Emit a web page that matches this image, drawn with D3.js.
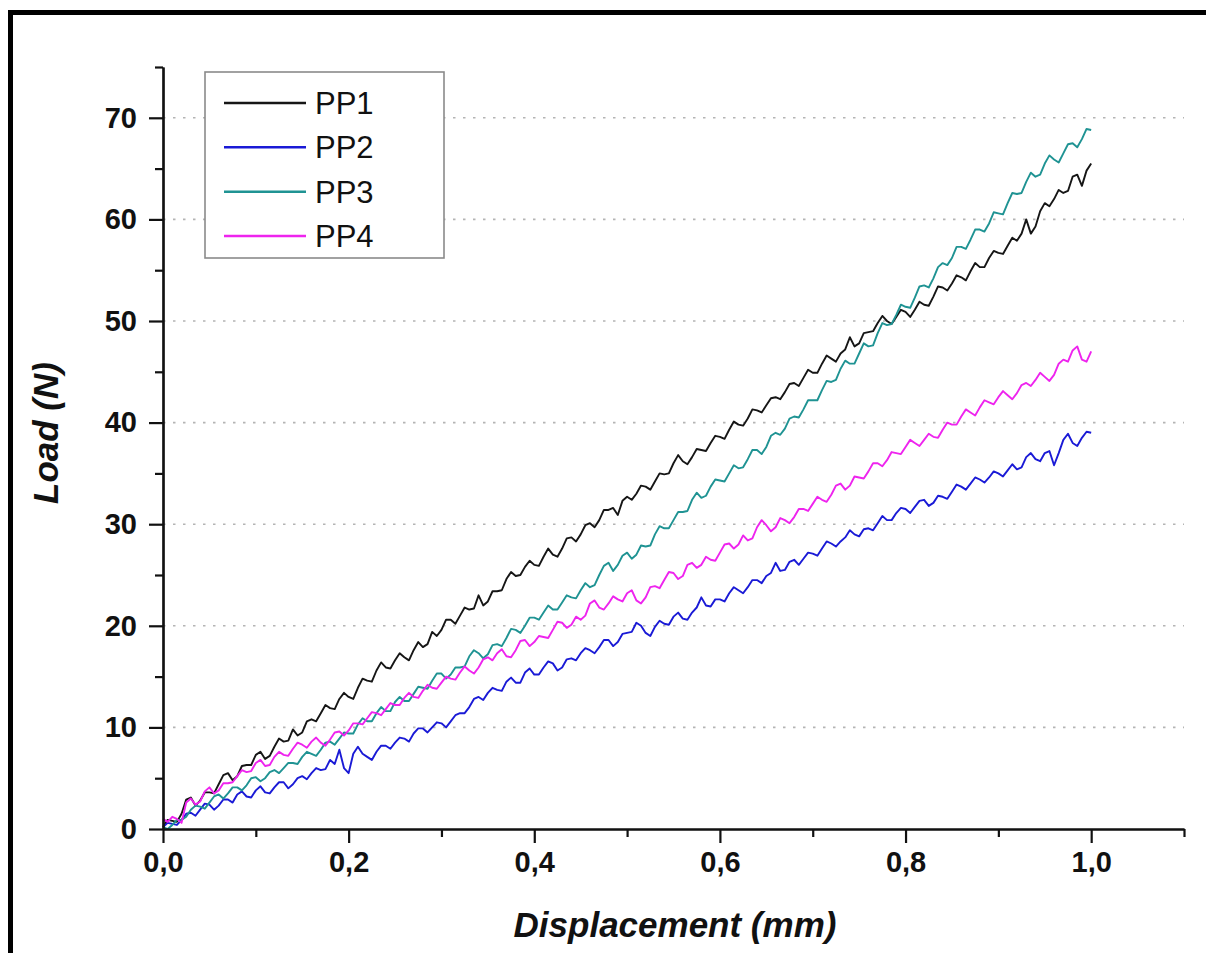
<!DOCTYPE html>
<html>
<head>
<meta charset="utf-8">
<script src="https://cdn.jsdelivr.net/npm/d3@7"></script>
<style>
  html, body { margin: 0; padding: 0; background: #ffffff; }
  svg { display: block; }
  text { font-family: "Liberation Sans", Arial, sans-serif; }
</style>
</head>
<body>
<svg id="chart" width="1206" height="953"></svg>
<script>
// ---- data ----
const displacement = [
  0.000,0.005,0.010,0.015,0.020,0.025,0.030,0.035,0.040,0.045,0.050,0.055,0.060,0.065,0.070,0.075,0.080,0.085,0.090,0.095,
  0.100,0.105,0.110,0.115,0.120,0.125,0.130,0.135,0.140,0.145,0.150,0.155,0.160,0.165,0.170,0.175,0.180,0.185,0.190,0.195,
  0.200,0.205,0.210,0.215,0.220,0.225,0.230,0.235,0.240,0.245,0.250,0.255,0.260,0.265,0.270,0.275,0.280,0.285,0.290,0.295,
  0.300,0.305,0.310,0.315,0.320,0.325,0.330,0.335,0.340,0.345,0.350,0.355,0.360,0.365,0.370,0.375,0.380,0.385,0.390,0.395,
  0.400,0.405,0.410,0.415,0.420,0.425,0.430,0.435,0.440,0.445,0.450,0.455,0.460,0.465,0.470,0.475,0.480,0.485,0.490,0.495,
  0.500,0.505,0.510,0.515,0.520,0.525,0.530,0.535,0.540,0.545,0.550,0.555,0.560,0.565,0.570,0.575,0.580,0.585,0.590,0.595,
  0.600,0.605,0.610,0.615,0.620,0.625,0.630,0.635,0.640,0.645,0.650,0.655,0.660,0.665,0.670,0.675,0.680,0.685,0.690,0.695,
  0.700,0.705,0.710,0.715,0.720,0.725,0.730,0.735,0.740,0.745,0.750,0.755,0.760,0.765,0.770,0.775,0.780,0.785,0.790,0.795,
  0.800,0.805,0.810,0.815,0.820,0.825,0.830,0.835,0.840,0.845,0.850,0.855,0.860,0.865,0.870,0.875,0.880,0.885,0.890,0.895,
  0.900,0.905,0.910,0.915,0.920,0.925,0.930,0.935,0.940,0.945,0.950,0.955,0.960,0.965,0.970,0.975,0.980,0.985,0.990,0.995,
  1.000
];

const pp1 = [
  0.2,0.9,0.8,0.7,1.5,2.9,3.1,2.3,2.8,3.6,3.6,3.5,4.4,5.3,5.5,4.8,5.2,6.2,6.3,6.3,
  7.3,7.6,6.9,7.2,8.1,8.9,8.6,8.7,9.8,9.2,9.5,10.6,10.8,10.6,11.4,12.2,11.9,11.8,12.8,13.4,
  13.0,12.8,13.9,14.8,14.6,14.5,15.6,16.4,15.9,15.8,16.6,17.3,16.9,16.6,17.6,18.4,17.9,18.2,19.4,19.0,
  19.6,20.6,20.6,20.2,21.0,21.8,21.6,21.7,23.0,22.0,22.4,23.4,23.4,23.5,24.6,25.3,24.9,25.0,25.8,26.4,
  26.0,25.9,26.8,27.6,27.0,26.8,27.6,28.6,28.7,28.3,29.0,29.9,30.1,29.7,30.4,31.4,31.4,31.6,30.9,32.3,
  32.7,32.4,33.0,33.8,33.7,33.4,34.2,35.0,34.9,35.0,36.0,36.8,36.2,35.9,36.6,37.4,37.3,37.2,38.0,38.7,
  38.6,38.4,39.3,40.1,39.8,39.7,40.4,41.3,41.2,41.0,41.7,42.4,42.5,42.3,43.0,43.8,43.9,43.6,44.4,45.2,
  44.9,44.9,45.8,46.6,46.3,46.0,46.8,47.2,48.4,47.5,47.8,48.8,48.9,49.0,49.8,50.5,50.0,49.7,50.4,51.1,
  50.9,50.4,51.1,51.9,51.6,51.5,52.4,53.4,53.3,53.0,53.7,54.5,54.3,54.0,54.9,55.7,55.3,55.3,56.2,56.9,
  56.7,56.6,57.4,58.2,57.9,58.6,60.0,58.6,59.3,60.8,61.6,61.3,62.0,62.9,62.6,62.8,64.2,64.4,63.3,64.8,
  65.5
];

const pp2 = [
  0.2,0.6,0.5,0.4,0.9,1.5,1.6,1.3,1.9,2.5,2.4,1.9,2.3,2.9,2.9,2.6,3.4,3.7,3.2,3.1,
  3.8,4.2,3.6,3.5,4.1,4.6,4.6,4.0,4.4,5.0,5.2,4.9,5.5,6.0,5.8,5.9,6.8,6.4,7.8,6.0,
  5.5,7.4,8.1,7.4,7.1,6.8,7.6,8.2,8.2,7.9,8.5,9.0,8.9,8.6,9.4,9.9,9.9,9.5,10.0,10.5,
  10.4,10.0,10.6,11.2,11.4,11.4,12.0,12.8,13.0,12.7,13.4,13.9,13.7,13.6,14.5,14.9,14.4,14.4,15.4,15.8,
  15.2,15.2,15.9,16.5,16.3,15.6,15.9,16.7,16.8,16.6,17.3,17.8,17.6,17.3,17.9,18.6,18.6,18.0,18.4,19.2,
  19.3,19.4,20.3,20.0,19.3,19.0,19.9,20.5,20.2,20.1,20.9,21.3,20.7,20.6,21.3,21.8,22.8,22.0,21.9,22.6,
  22.6,22.4,23.2,23.8,23.5,23.2,23.8,24.5,24.5,24.2,24.9,25.2,26.2,25.4,25.5,26.3,26.5,26.0,26.6,27.2,
  27.1,26.9,27.6,28.3,28.1,27.8,28.3,28.7,29.4,29.0,28.8,29.5,29.6,29.4,30.1,30.8,30.4,30.4,31.1,31.6,
  31.5,31.1,31.7,32.3,32.4,31.8,32.1,32.8,32.7,32.5,33.2,33.9,33.7,33.4,34.0,34.6,34.4,34.1,34.6,35.2,
  35.0,34.7,35.3,35.9,35.4,35.6,36.6,37.0,36.4,36.2,37.0,37.2,35.8,37.0,38.3,38.9,38.0,37.7,38.5,39.1,
  39.0
];

const pp3 = [
  0.2,0.0,0.4,0.9,0.9,1.2,1.9,2.3,2.2,2.0,2.6,3.2,3.4,3.0,3.5,4.1,4.1,3.8,4.3,5.0,
  5.1,4.7,5.0,5.6,5.8,5.5,6.0,6.5,6.5,6.4,7.1,7.6,7.4,7.2,7.8,8.5,8.6,8.3,8.9,9.5,
  9.4,9.4,10.3,10.9,10.6,10.6,11.4,12.0,11.6,11.6,12.5,13.0,12.6,12.6,13.3,14.0,13.9,13.8,14.6,15.3,
  15.3,14.8,15.2,15.9,15.9,16.0,17.0,17.6,17.3,16.8,17.2,18.1,18.2,18.0,18.8,19.7,19.6,19.3,20.0,20.8,
  20.8,20.6,21.3,22.0,21.6,21.6,22.3,23.0,22.8,22.7,23.5,24.2,23.8,24.0,25.0,25.9,26.2,25.4,26.0,26.9,
  27.2,26.6,27.0,27.9,27.8,27.9,29.0,29.8,29.6,29.6,30.4,31.2,31.2,31.3,32.4,33.1,32.6,32.8,33.7,34.4,
  34.3,34.2,35.0,35.8,35.5,35.6,36.4,37.3,37.3,36.9,37.6,38.7,39.0,38.8,39.4,40.4,40.6,40.5,41.3,42.2,
  42.2,42.2,43.2,44.1,44.0,44.2,45.3,46.1,45.8,45.8,46.8,47.8,47.5,47.6,48.8,49.8,49.6,49.7,50.6,51.6,
  51.4,51.3,52.3,53.4,53.5,53.3,54.2,55.3,55.7,55.5,56.2,57.3,57.3,57.1,58.0,59.0,59.0,58.8,59.6,60.7,
  60.6,60.5,61.6,62.6,62.5,62.6,63.7,64.6,64.2,64.4,65.5,66.3,65.9,65.6,66.5,67.4,67.5,67.1,67.9,68.9,
  68.8
];

const pp4 = [
  1.0,0.7,1.2,1.0,0.6,2.6,3.0,2.4,2.7,3.7,4.1,3.5,3.8,4.5,4.5,4.6,5.2,5.8,5.6,5.7,
  6.5,6.8,6.2,6.3,7.1,7.6,7.3,7.2,7.9,8.5,8.3,8.0,8.6,9.0,8.5,8.2,8.8,9.5,9.6,9.2,
  9.7,10.4,10.4,10.3,10.9,11.5,11.4,11.2,11.8,12.4,12.2,12.2,12.9,13.4,13.0,12.9,13.6,14.2,13.9,13.8,
  14.4,15.0,14.8,14.7,15.4,16.0,15.6,15.3,15.9,16.7,16.9,16.6,17.3,17.7,17.0,16.9,17.6,18.5,18.6,18.0,
  18.4,19.0,18.9,18.8,19.6,20.4,20.3,19.8,20.1,20.9,20.6,21.0,22.2,22.5,21.8,21.6,22.2,22.9,22.6,22.4,
  23.2,23.5,22.5,22.2,22.8,23.8,23.9,23.7,24.5,25.3,25.2,24.6,24.9,26.0,26.2,25.7,26.0,26.8,26.5,26.4,
  27.2,28.0,28.1,27.6,28.0,28.9,28.4,28.6,29.7,30.4,29.9,29.3,29.7,30.6,30.4,30.1,30.7,31.5,31.5,31.3,
  32.0,32.7,32.4,32.2,32.9,33.8,34.0,33.4,33.8,34.7,34.6,34.5,35.2,36.0,36.0,35.7,36.3,37.1,37.0,36.9,
  37.6,38.3,38.0,37.7,38.3,38.9,38.6,38.5,39.3,40.0,39.8,39.8,40.6,41.3,41.0,40.7,41.5,42.2,42.0,41.8,
  42.5,43.1,42.7,42.3,42.9,43.7,43.9,43.6,44.2,44.9,44.5,44.1,44.7,45.8,46.2,46.0,47.1,47.5,46.2,46.0,
  47.0
];

const seriesNames = ["PP1", "PP2", "PP3", "PP4"];
const seriesColors = ["#161616", "#1a1ad6", "#1f9393", "#ee24ee"];
const xMajorTicks = [0.0, 0.2, 0.4, 0.6, 0.8, 1.0];
const xMinorTicks = [0.1, 0.3, 0.5, 0.7, 0.9, 1.1];
const yMajorTicks = [0, 10, 20, 30, 40, 50, 60, 70];
const yMinorTicks = [5, 15, 25, 35, 45, 55, 65, 75];
const xTitle = "Displacement (mm)";
const yTitle = "Load (N)";

// ---- drawing ----
const svg = d3.select("#chart");
const allSeries = [pp1, pp2, pp3, pp4];

const x = d3.scaleLinear().domain([0, 1.1]).range([163, 1184]);
const y = d3.scaleLinear().domain([0, 75]).range([829, 67]);

// outer frame (right and bottom edges fall outside the picture)
svg.append("rect")
  .attr("x", 10.5).attr("y", 12.5)
  .attr("width", 1300).attr("height", 1100)
  .attr("fill", "#ffffff")
  .attr("stroke", "#000").attr("stroke-width", 5);

// grid lines
svg.append("g").selectAll("line")
  .data(yMajorTicks.filter(d => d > 0))
  .join("line")
  .attr("x1", x(0)).attr("x2", x(1.1))
  .attr("y1", d => y(d)).attr("y2", d => y(d))
  .attr("stroke", "#b4b4b4")
  .attr("stroke-width", 1.6)
  .attr("stroke-dasharray", "2.5,7.5");

// lines
const line = d3.line()
  .x((d, i) => x(displacement[i]))
  .y(d => y(d));

svg.append("g").selectAll("path")
  .data(allSeries)
  .join("path")
  .attr("d", d => line(d))
  .attr("fill", "none")
  .attr("stroke", (d, i) => seriesColors[i])
  .attr("stroke-width", 1.9)
  .attr("stroke-linejoin", "round");

const fmtX = d => d3.format(".1f")(d).replace(".", ",");

// x axis
const gx = svg.append("g").attr("transform", `translate(0,${y(0)})`);
gx.call(d3.axisBottom(x).tickValues(xMajorTicks).tickFormat(fmtX).tickSize(14).tickSizeOuter(0).tickPadding(8));
gx.append("g").call(d3.axisBottom(x).tickValues(xMinorTicks).tickFormat("").tickSize(8).tickSizeOuter(0));

// y axis
const gy = svg.append("g").attr("transform", `translate(${x(0)},0)`);
gy.call(d3.axisLeft(y).tickValues(yMajorTicks).tickFormat(d3.format("d")).tickSize(14).tickSizeOuter(0).tickPadding(12));
gy.append("g").call(d3.axisLeft(y).tickValues(yMinorTicks).tickFormat("").tickSize(8).tickSizeOuter(0));

svg.selectAll(".domain").attr("stroke", "#111").attr("stroke-width", 2.2);
svg.selectAll(".tick line").attr("stroke", "#111").attr("stroke-width", 2.2);
svg.selectAll(".tick text")
  .attr("fill", "#111")
  .style("font-family", '"Liberation Sans", Arial, sans-serif')
  .style("font-weight", "bold")
  .style("font-size", "29px");

// axis titles
svg.append("text")
  .attr("x", 675).attr("y", 937)
  .attr("text-anchor", "middle")
  .style("font-weight", "bold").style("font-style", "italic")
  .style("font-size", "35px").attr("fill", "#111")
  .text(xTitle);

svg.append("text")
  .attr("transform", "translate(58,433) rotate(-90)")
  .attr("text-anchor", "middle")
  .style("font-weight", "bold").style("font-style", "italic")
  .style("font-size", "35px").attr("fill", "#111")
  .text(yTitle);

// legend
const lg = svg.append("g");
lg.append("rect")
  .attr("x", 205).attr("y", 72)
  .attr("width", 239).attr("height", 186)
  .attr("fill", "#fff").attr("stroke", "#8a8a8a").attr("stroke-width", 1.6);
const ly = d3.scalePoint().domain(seriesNames).range([103, 236]);
const items = lg.selectAll("g.item").data(seriesNames).join("g").attr("class", "item");
items.append("line")
  .attr("x1", 224).attr("x2", 306)
  .attr("y1", d => ly(d)).attr("y2", d => ly(d))
  .attr("stroke", (d, i) => seriesColors[i]).attr("stroke-width", 2.5);
items.append("text")
  .attr("x", 315).attr("y", d => ly(d) + 11)
  .style("font-size", "31px").attr("fill", "#111")
  .text(d => d);
</script>
</body>
</html>
